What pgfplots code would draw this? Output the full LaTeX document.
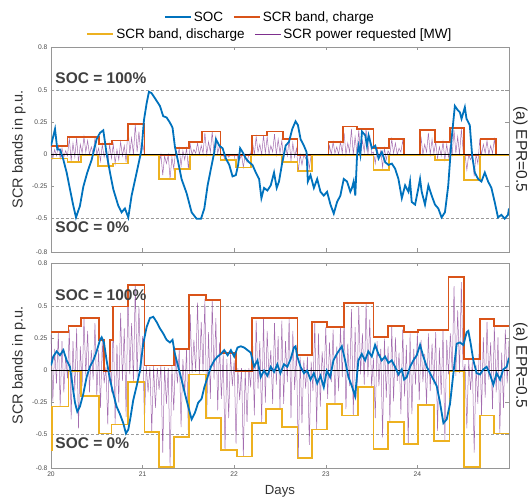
\documentclass[border=0pt]{standalone}
\usepackage{pgfplots}
\pgfplotsset{compat=1.18}
\usepackage{fontspec}
\setmainfont{Liberation Sans}
\definecolor{socblue}{RGB}{0,114,189}
\definecolor{chorange}{RGB}{217,83,25}
\definecolor{dcyellow}{RGB}{237,177,32}
\definecolor{reqpurple}{RGB}{126,47,142}
\definecolor{framegray}{RGB}{150,150,150}
\definecolor{txtgray}{RGB}{64,64,64}
\tikzset{soctxt/.style={anchor=west, font=\bfseries\fontsize{15.5}{16}\selectfont, text=txtgray}}
\pgfplotsset{
 panel/.style={
  scale only axis, width=458pt, height=205pt,
  xmin=20, xmax=25, ymin=-0.76, ymax=0.84,
  xtick={20,21,22,23,24},
  ytick={-0.76,-0.5,-0.25,0,0.25,0.5,0.84},
  yticklabels={-0.8,-0.5,-0.25,0,0.25,0.5,0.8},
  tick align=inside, major tick length=3.5pt,
  axis line style={framegray, line width=0.6pt},
  every tick/.style={framegray, line width=0.5pt},
  tick label style={font=\fontsize{6.7}{7}\selectfont, text=black!70},
  /pgf/number format/assume math mode=true,
  ylabel={SCR bands in p.u.},
  ylabel style={at={(axis description cs:-0.0699,0.5)}, anchor=center, font=\fontsize{14.5}{15}\selectfont, text=black!80},
  legend columns=-1,
  legend image code/.code={\draw[#1] (0pt,0pt) -- (26pt,0pt);},
  legend style={draw=none, fill=none, font=\fontsize{13.5}{14}\selectfont, inner sep=0pt,
    /tikz/every even column/.append style={column sep=8pt}},
 },
 band/.style={line width=1.8pt, const plot, forget plot},
 req/.style={reqpurple, line width=0.5pt, opacity=0.7, forget plot},
 refl/.style={black!40, dash pattern=on 3pt off 2pt, line width=0.5pt, forget plot},
 socl/.style={socblue, line width=1.8pt, forget plot},
}
\begin{document}
\begin{tikzpicture}
\path[use as bounding box] (0,0) rectangle (531pt,499pt);
% ---------------- top panel ----------------
\begin{axis}[panel, name=top, at={(51pt,247pt)}, anchor=south west, xticklabels={},
  legend style={at={(axis description cs:0.478,1.146)}, anchor=center}]
\addlegendimage{socblue, line width=1.8pt}\addlegendentry{SOC}
\addlegendimage{chorange, line width=1.8pt}\addlegendentry{SCR band, charge}
\addplot[refl] coordinates {(20,0.5) (24.96,0.5)};
\addplot[refl] coordinates {(20,-0.5) (24.96,-0.5)};
\addplot[req] coordinates {(20.00,0.07)(20.02,-0.03)(20.04,0.04)(20.06,-0.01)(20.08,0.07)(20.10,-0.03)(20.12,0.05)(20.14,-0.02)(20.16,0.03)(20.18,-0.01)(20.20,0.13)(20.22,-0.05)(20.24,0.09)(20.26,-0.02)(20.28,0.13)(20.30,-0.06)(20.32,0.08)(20.34,0.01)(20.36,0.14)(20.38,0.02)(20.40,0.11)(20.42,0)(20.44,0.06)(20.46,0.01)(20.48,0.13)(20.50,0)(20.52,0.05)(20.54,-0.05)(20.56,0.08)(20.58,-0.02)(20.60,0.04)(20.62,-0.08)(20.64,0.08)(20.66,-0.03)(20.68,0.08)(20.70,-0.07)(20.72,0.04)(20.74,-0.04)(20.76,0.10)(20.78,-0.01)(20.80,0.07)(20.82,-0.06)(20.84,0.23)(20.86,0.01)(20.88,0.13)(20.90,0)(20.92,0.24)(20.94,0.02)(20.96,0.18)(20.98,0)(21.00,0.10)(21.02,0)(21.18,0)(21.19,-0.04)(21.20,0)(21.22,-0.16)(21.24,-0.01)(21.26,-0.07)(21.28,0)(21.30,-0.19)(21.32,-0.02)(21.34,-0.11)(21.36,0.03)(21.38,-0.02)(21.40,0.05)(21.42,-0.09)(21.44,0.03)(21.46,-0.04)(21.48,0.05)(21.50,-0.11)(21.52,0.08)(21.54,0)(21.56,0.04)(21.58,0.01)(21.60,0.09)(21.62,0)(21.64,0.07)(21.66,0.01)(21.68,0.17)(21.70,0)(21.72,0.10)(21.74,0.02)(21.76,0.18)(21.78,0)(21.80,0.14)(21.82,0.01)(21.84,0.07)(21.86,-0.01)(21.88,0)(21.90,-0.04)(21.92,0)(21.94,-0.02)(21.96,0)(21.98,-0.01)(22.00,0)(22.02,-0.09)(22.04,0)(22.06,-0.04)(22.08,0)(22.10,-0.10)(22.12,0)(22.14,-0.06)(22.16,0)(22.18,0.01)(22.20,0.10)(22.22,0)(22.24,0.14)(22.26,0.02)(22.28,0.08)(22.30,0)(22.32,0.15)(22.34,0.01)(22.36,0.14)(22.38,0)(22.40,0.07)(22.42,0.02)(22.44,0.16)(22.46,0)(22.48,0.12)(22.50,0.01)(22.52,0.11)(22.54,-0.04)(22.56,0.07)(22.58,-0.01)(22.60,0.12)(22.62,-0.05)(22.64,0.09)(22.66,-0.02)(22.68,0.05)(22.70,-0.13)(22.72,0)(22.74,-0.08)(22.76,0)(22.78,-0.03)(22.80,0)(22.82,-0.11)(22.84,0)(23.03,0)(23.04,0.07)(23.06,0)(23.08,0.10)(23.10,0.01)(23.12,0.06)(23.14,0)(23.16,0.10)(23.18,0.01)(23.20,0.17)(23.22,0)(23.24,0.09)(23.26,0.02)(23.28,0.20)(23.30,0)(23.32,0.14)(23.34,0.01)(23.36,0.19)(23.38,0)(23.40,0.11)(23.42,0.02)(23.44,0.20)(23.46,0)(23.48,0.15)(23.50,0.01)(23.52,0.02)(23.54,-0.07)(23.56,0.05)(23.58,-0.02)(23.60,0.03)(23.62,-0.10)(23.64,0.05)(23.66,-0.04)(23.68,0.03)(23.70,0)(23.72,0.12)(23.74,0.01)(23.76,0.09)(23.78,0)(23.80,0.05)(23.82,0.02)(23.84,0.11)(23.86,0)(24.03,0)(24.04,0.14)(24.06,0)(24.08,0.08)(24.10,0.02)(24.12,0.17)(24.14,0)(24.16,0.12)(24.18,0.01)(24.20,0.10)(24.22,-0.03)(24.24,0.06)(24.26,-0.01)(24.28,0.10)(24.30,-0.04)(24.32,0.08)(24.34,-0.02)(24.36,0.08)(24.38,0)(24.40,0.19)(24.42,0.01)(24.44,0.14)(24.46,0)(24.48,0.20)(24.50,0.02)(24.52,0)(24.54,-0.12)(24.56,0)(24.58,-0.04)(24.60,-0.01)(24.62,-0.17)(24.64,0)(24.66,-0.07)(24.68,0.11)(24.70,0)(24.72,0.08)(24.74,0.01)(24.76,0.11)(24.78,0)(24.80,0.07)(24.82,0.01)(24.84,0.12)(24.86,0)(25.00,0)};
\addplot[band, chorange] coordinates {(20,0.07) (20.18,0.14) (20.52,0.08) (20.67,0.11) (20.84,0.24) (21.02,0) (21.36,0.05) (21.51,0.10) (21.65,0.18) (21.85,0) (22.19,0.15) (22.36,0.18) (22.53,0.12) (22.69,0) (23.03,0.10) (23.19,0.22) (23.34,0.20) (23.52,0.05) (23.69,0.12) (23.85,0) (24.03,0.19) (24.19,0.10) (24.36,0.21) (24.51,0) (24.69,0.12) (24.86,0) (25,0)};
\addplot[band, dcyellow] coordinates {(20,-0.03) (20.18,-0.06) (20.33,0) (20.51,-0.09) (20.68,-0.07) (20.84,0) (21.18,-0.19) (21.35,-0.11) (21.52,0) (21.85,-0.04) (22.02,-0.10) (22.18,0) (22.52,-0.06) (22.69,-0.13) (22.85,0) (23.52,-0.12) (23.69,0) (24.19,-0.04) (24.36,0) (24.51,-0.20) (24.68,0) (25,0)};
\addplot[black, line width=0.5pt, forget plot] coordinates {(20,0) (25,0)};
\addplot[socl] coordinates {(20.000,0.07)(20.044,0.20)(20.069,0.04)(20.098,0.04)(20.135,-0.04)(20.171,-0.14)(20.207,-0.27)(20.244,-0.40)(20.273,-0.49)(20.316,-0.40)(20.353,-0.25)(20.396,-0.14)(20.444,-0.04)(20.498,0.12)(20.535,0.17)(20.571,0.19)(20.607,0.01)(20.644,-0.14)(20.680,-0.27)(20.735,-0.40)(20.771,-0.45)(20.807,-0.42)(20.844,-0.49)(20.880,-0.32)(20.935,-0.14)(20.989,0.04)(21.015,0.27)(21.044,0.40)(21.069,0.49)(21.098,0.48)(21.153,0.42)(21.189,0.38)(21.225,0.30)(21.262,0.29)(21.298,0.25)(21.327,0.21)(21.353,0.06)(21.389,-0.06)(21.425,-0.19)(21.480,-0.30)(21.535,-0.45)(21.589,-0.50)(21.638,-0.50)(21.674,-0.42)(21.710,-0.24)(21.746,-0.11)(21.783,0.02)(21.801,0.12)(21.837,0.07)(21.873,0.05)(21.909,-0.03)(21.946,-0.08)(21.982,-0.17)(22.018,-0.16)(22.043,-0.08)(22.065,0.05)(22.091,0.02)(22.127,-0.03)(22.163,-0.06)(22.199,-0.08)(22.236,-0.14)(22.272,-0.19)(22.297,-0.34)(22.326,-0.26)(22.362,-0.28)(22.399,-0.24)(22.435,-0.14)(22.464,-0.26)(22.489,-0.21)(22.525,-0.06)(22.562,0.07)(22.598,0.10)(22.634,0.20)(22.670,0.26)(22.696,0.23)(22.725,0.12)(22.761,0.07)(22.790,0.02)(22.804,-0.21)(22.833,-0.16)(22.870,-0.26)(22.906,-0.19)(22.942,-0.29)(22.978,-0.32)(23.014,-0.29)(23.051,-0.39)(23.087,-0.46)(23.123,-0.37)(23.159,-0.32)(23.196,-0.19)(23.232,-0.21)(23.268,-0.29)(23.286,-0.26)(23.304,-0.21)(23.322,-0.32)(23.341,-0.01)(23.359,0.07)(23.377,0.00)(23.395,0.18)(23.431,0.15)(23.449,0.07)(23.467,0.15)(23.504,0.05)(23.540,0.07)(23.576,-0.03)(23.612,0.02)(23.649,-0.06)(23.685,-0.08)(23.721,-0.07)(23.757,-0.11)(23.793,-0.19)(23.830,-0.34)(23.866,-0.24)(23.902,-0.29)(23.920,-0.21)(23.938,-0.37)(23.975,-0.39)(24.011,-0.26)(24.029,-0.19)(24.047,-0.29)(24.083,-0.39)(24.120,-0.24)(24.156,-0.32)(24.192,-0.39)(24.228,-0.42)(24.264,-0.49)(24.301,-0.45)(24.337,-0.24)(24.373,0.12)(24.409,0.38)(24.438,0.35)(24.464,0.33)(24.482,0.28)(24.518,0.37)(24.536,0.28)(24.572,0.23)(24.598,-0.01)(24.627,-0.14)(24.663,-0.19)(24.699,-0.21)(24.736,-0.14)(24.772,-0.21)(24.808,-0.26)(24.844,-0.37)(24.880,-0.49)(24.917,-0.47)(24.953,-0.50)(24.989,-0.47)(25.000,-0.42)};
\node[soctxt] at (axis cs:20.01,0.60) {SOC = 100\%};
\node[soctxt] at (axis cs:20.01,-0.57) {SOC = 0\%};
\end{axis}
\node[rotate=-90, font=\fontsize{15.5}{16}\selectfont, text=black!85] at ([xshift=11.5pt]top.east) {(a) EPR=0.5};
% ---------------- bottom panel ----------------
\begin{axis}[panel, name=bot, at={(51pt,31pt)}, anchor=south west,
  xlabel={Days}, xlabel style={at={(axis description cs:0.5,-0.112)}, anchor=center, font=\fontsize{13.2}{14}\selectfont, text=black!80},
  legend style={at={(axis description cs:0.478,2.117)}, anchor=center}]
\addlegendimage{dcyellow, line width=1.8pt}\addlegendentry{SCR band, discharge}
\addlegendimage{reqpurple, line width=0.7pt}\addlegendentry{SCR power requested [MW]}
\addplot[refl] coordinates {(20,0.5) (24.96,0.5)};
\addplot[refl] coordinates {(20,-0.5) (24.96,-0.5)};
\addplot[req] coordinates {(20.00,0.28)(20.02,-0.24)(20.04,0.17)(20.06,-0.10)(20.08,0.30)(20.10,-0.28)(20.12,0.23)(20.14,-0.17)(20.16,0.12)(20.18,-0.06)(20.20,0.32)(20.22,-0.38)(20.24,0.23)(20.26,-0.16)(20.28,0.33)(20.30,-0.45)(20.32,0.19)(20.34,-0.12)(20.36,0.41)(20.38,-0.04)(20.40,0.31)(20.42,-0.17)(20.44,0.16)(20.46,-0.07)(20.48,0.37)(20.50,-0.20)(20.52,0.16)(20.54,-0.29)(20.56,0.23)(20.58,-0.10)(20.60,0.03)(20.62,-0.42)(20.64,0.24)(20.66,-0.17)(20.68,0.38)(20.70,-0.42)(20.72,0.20)(20.74,-0.25)(20.76,0.45)(20.78,-0.08)(20.80,0.33)(20.82,-0.36)(20.84,0.64)(20.86,-0.03)(20.88,0.37)(20.90,-0.09)(20.92,0.67)(20.94,-0.05)(20.96,0.50)(20.98,-0.02)(21.00,0.27)(21.02,-0.41)(21.04,0.04)(21.06,-0.17)(21.08,0.03)(21.10,-0.48)(21.12,0.04)(21.14,-0.29)(21.16,0.02)(21.18,-0.15)(21.20,0.04)(21.22,-0.64)(21.24,0.03)(21.26,-0.26)(21.28,0.02)(21.30,-0.75)(21.32,0.04)(21.34,-0.31)(21.36,0.11)(21.38,-0.10)(21.40,0.16)(21.42,-0.44)(21.44,0.09)(21.46,-0.18)(21.48,0.17)(21.50,-0.52)(21.52,0.44)(21.54,-0.02)(21.56,0.24)(21.58,-0.01)(21.60,0.53)(21.62,-0.03)(21.64,0.38)(21.66,-0.01)(21.68,0.56)(21.70,-0.37)(21.72,0.30)(21.74,-0.22)(21.76,0.55)(21.78,-0.07)(21.80,0.41)(21.82,-0.31)(21.84,0.22)(21.86,-0.22)(21.88,0.13)(21.90,-0.62)(21.92,0.09)(21.94,-0.37)(21.96,0.13)(21.98,-0.12)(22.00,0.08)(22.02,-0.57)(22.04,0.02)(22.06,-0.23)(22.08,0.02)(22.10,-0.67)(22.12,0.01)(22.14,-0.40)(22.16,0.02)(22.18,-0.13)(22.20,0.27)(22.22,-0.35)(22.24,0.39)(22.26,-0.14)(22.28,0.23)(22.30,-0.41)(22.32,0.41)(22.34,-0.25)(22.36,0.31)(22.38,-0.06)(22.40,0.16)(22.42,-0.26)(22.44,0.37)(22.46,-0.11)(22.48,0.27)(22.50,-0.30)(22.52,0.39)(22.54,-0.26)(22.56,0.23)(22.58,-0.09)(22.60,0.41)(22.62,-0.37)(22.64,0.31)(22.66,-0.15)(22.68,0.16)(22.70,-0.68)(22.72,0.11)(22.74,-0.41)(22.76,0.08)(22.78,-0.14)(22.80,0.11)(22.82,-0.58)(22.84,0.07)(22.86,-0.16)(22.88,0.38)(22.90,-0.46)(22.92,0.29)(22.94,-0.28)(22.96,0.15)(22.98,-0.09)(23.00,0.34)(23.02,-0.22)(23.04,0.22)(23.06,-0.09)(23.08,0.32)(23.10,-0.26)(23.12,0.19)(23.14,-0.16)(23.16,0.34)(23.18,-0.05)(23.20,0.40)(23.22,-0.30)(23.24,0.21)(23.26,-0.12)(23.28,0.48)(23.30,-0.35)(23.32,0.34)(23.34,-0.21)(23.36,0.50)(23.38,-0.03)(23.40,0.29)(23.42,-0.11)(23.44,0.53)(23.46,-0.05)(23.48,0.40)(23.50,-0.13)(23.52,0.10)(23.54,-0.37)(23.56,0.23)(23.58,-0.12)(23.60,0.17)(23.62,-0.52)(23.64,0.25)(23.66,-0.21)(23.68,0.19)(23.70,-0.40)(23.72,0.35)(23.74,-0.24)(23.76,0.26)(23.78,-0.08)(23.80,0.14)(23.82,-0.34)(23.84,0.32)(23.86,-0.20)(23.88,0.20)(23.90,-0.57)(23.92,0.29)(23.94,-0.34)(23.96,0.17)(23.98,-0.11)(24.00,0.30)(24.02,-0.23)(24.04,0.24)(24.06,-0.09)(24.08,0.13)(24.10,-0.27)(24.12,0.29)(24.14,-0.16)(24.16,0.21)(24.18,-0.11)(24.20,0.30)(24.22,-0.47)(24.24,0.18)(24.26,-0.19)(24.28,0.32)(24.30,-0.55)(24.32,0.24)(24.34,-0.03)(24.36,0.29)(24.38,-0.01)(24.40,0.66)(24.42,-0.04)(24.44,0.47)(24.46,-0.02)(24.48,0.69)(24.50,-0.05)(24.52,0.05)(24.54,-0.45)(24.56,0.09)(24.58,-0.15)(24.60,0.07)(24.62,-0.64)(24.64,0.04)(24.66,-0.26)(24.68,0.36)(24.70,-0.35)(24.72,0.26)(24.74,-0.21)(24.76,0.38)(24.78,-0.07)(24.80,0.22)(24.82,-0.30)(24.84,0.35)(24.86,-0.17)(24.88,0.26)(24.90,-0.49)(24.92,0.14)(24.94,-0.29)(24.96,0.32)(24.98,-0.10)(25.00,0.23)};
\addplot[band, chorange] coordinates {(20,0.30) (20.19,0.35) (20.33,0.41) (20.52,0.24) (20.58,0) (20.64,0.24) (20.68,0.50) (20.84,0.67) (21.02,0.04) (21.34,0.17) (21.51,0.59) (21.69,0.55) (21.85,0.14) (22.02,0) (22.19,0.41) (22.69,0.12) (22.85,0.38) (23.01,0.34) (23.20,0.53) (23.52,0.26) (23.68,0.35) (23.85,0.30) (24.01,0.32) (24.34,0.73) (24.51,0.09) (24.68,0.40) (24.84,0.35) (25,0.35)};
\addplot[band, dcyellow] coordinates {(20,-0.62) (20.01,-0.28) (20.19,0) (20.33,-0.20) (20.52,-0.49) (20.66,-0.42) (20.84,-0.09) (21.02,-0.48) (21.18,-0.75) (21.34,-0.52) (21.51,-0.03) (21.69,-0.37) (21.86,-0.62) (22.03,-0.67) (22.19,-0.41) (22.35,-0.30) (22.52,-0.44) (22.69,-0.68) (22.85,-0.46) (23.01,-0.26) (23.18,-0.35) (23.35,-0.13) (23.52,-0.61) (23.68,-0.40) (23.85,-0.57) (24.01,-0.27) (24.18,-0.55) (24.35,0) (24.51,-0.75) (24.68,-0.35) (24.84,-0.49) (25,-0.49)};
\addplot[black, line width=0.5pt, forget plot] coordinates {(20,0) (25,0)};
\addplot[socl] coordinates {(20.000,0.04)(20.025,0.11)(20.062,0.15)(20.098,0.12)(20.135,0.16)(20.171,0.08)(20.207,0.03)(20.236,-0.12)(20.262,-0.25)(20.287,-0.32)(20.316,-0.28)(20.353,-0.18)(20.389,-0.05)(20.425,0.03)(20.462,0.08)(20.498,0.15)(20.535,0.24)(20.553,0.26)(20.578,0.22)(20.607,0.08)(20.644,-0.07)(20.680,-0.18)(20.716,-0.28)(20.753,-0.34)(20.789,-0.41)(20.818,-0.49)(20.844,-0.46)(20.869,-0.36)(20.898,-0.23)(20.935,-0.12)(20.971,0.00)(21.007,0.21)(21.044,0.34)(21.080,0.41)(21.116,0.42)(21.153,0.38)(21.189,0.33)(21.225,0.29)(21.262,0.24)(21.298,0.22)(21.327,0.24)(21.353,0.13)(21.389,0.03)(21.425,-0.07)(21.462,-0.18)(21.498,-0.28)(21.535,-0.38)(21.571,-0.33)(21.607,-0.25)(21.644,-0.22)(21.674,-0.13)(21.710,-0.05)(21.746,0.03)(21.783,0.08)(21.819,0.11)(21.855,0.13)(21.891,0.16)(21.928,0.12)(21.964,0.16)(22.000,0.11)(22.036,0.18)(22.072,0.19)(22.109,0.18)(22.145,0.16)(22.181,0.14)(22.217,0.03)(22.254,0.08)(22.290,-0.05)(22.326,0.00)(22.362,-0.04)(22.399,0.03)(22.435,-0.01)(22.471,0.05)(22.504,-0.02)(22.543,0.05)(22.580,0.03)(22.616,0.09)(22.652,0.18)(22.670,0.19)(22.688,0.11)(22.725,0.03)(22.761,-0.02)(22.797,0.00)(22.833,-0.07)(22.870,-0.02)(22.906,-0.10)(22.942,-0.04)(22.978,-0.13)(23.011,0.00)(23.047,-0.05)(23.084,0.08)(23.120,0.13)(23.175,0.19)(23.211,0.08)(23.247,-0.05)(23.284,-0.12)(23.320,-0.20)(23.356,0.08)(23.393,0.13)(23.429,0.08)(23.465,0.15)(23.502,0.11)(23.538,0.20)(23.575,0.13)(23.611,0.08)(23.647,0.11)(23.684,0.06)(23.720,0.08)(23.756,0.03)(23.793,-0.03)(23.829,0.01)(23.855,-0.07)(23.884,-0.05)(23.920,0.03)(23.956,0.08)(23.993,0.12)(24.029,0.20)(24.065,0.11)(24.102,0.03)(24.138,-0.02)(24.175,-0.07)(24.211,-0.12)(24.247,-0.25)(24.284,-0.41)(24.320,-0.38)(24.356,-0.26)(24.393,-0.02)(24.429,0.21)(24.465,0.22)(24.502,0.20)(24.538,0.30)(24.556,0.31)(24.582,0.21)(24.611,0.08)(24.647,-0.02)(24.684,-0.03)(24.720,0.01)(24.756,0.03)(24.793,-0.03)(24.829,-0.11)(24.865,-0.02)(24.902,-0.07)(24.938,0.01)(24.975,0.03)(25.000,0.10)};
\node[soctxt] at (axis cs:20.01,0.59) {SOC = 100\%};
\node[soctxt] at (axis cs:20.01,-0.565) {SOC = 0\%};
\end{axis}
\node[rotate=-90, font=\fontsize{15.5}{16}\selectfont, text=black!85] at ([xshift=11.5pt]bot.east) {(a) EPR=0.5};
\end{tikzpicture}
\end{document}
